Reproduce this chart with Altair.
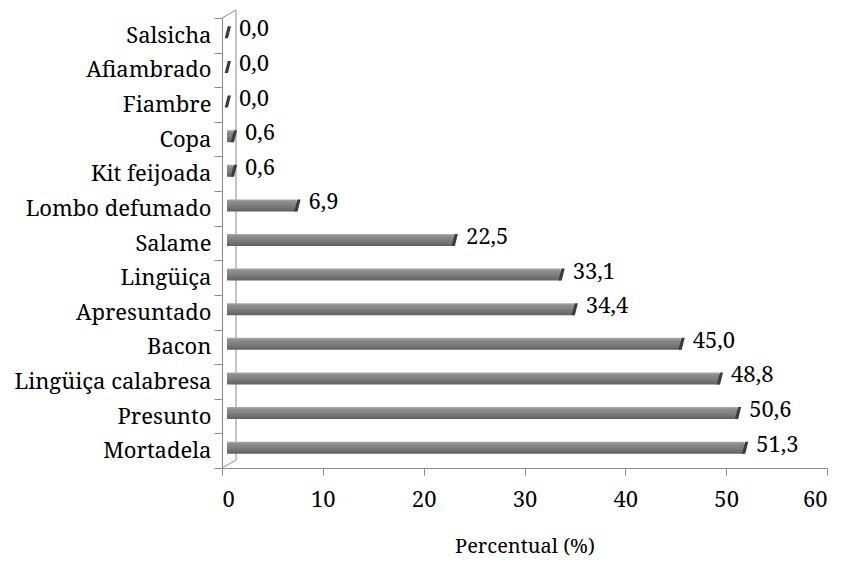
import altair as alt
import pandas as pd

# Produtos cárneos e percentual de ocorrência
categories = [
    "Salsicha", "Afiambrado", "Fiambre", "Copa", "Kit feijoada",
    "Lombo defumado", "Salame", "Lingüiça", "Apresuntado", "Bacon",
    "Lingüiça calabresa", "Presunto", "Mortadela",
]
values = [0.0, 0.0, 0.0, 0.6, 0.6, 6.9, 22.5, 33.1, 34.4, 45.0, 48.8, 50.6, 51.3]
x_ticks = [0, 10, 20, 30, 40, 50, 60]

df = pd.DataFrame({"produto": categories, "percentual": values})
df["rotulo"] = [f"{v:.1f}".replace(".", ",") for v in values]

FONT = "Noto Serif"
AXIS_GRAY = "#8a8a8a"
W, H = 605, 450
DEPTH_X, DEPTH_Y = 14, 8

x_enc = alt.X(
    "percentual:Q",
    scale=alt.Scale(domain=[0, 60], nice=False),
    axis=alt.Axis(
        values=x_ticks, grid=False, tickSize=7, labelPadding=14,
        labelFontSize=22, title="Percentual (%)", titleFontSize=20,
        titleFontWeight="normal", titlePadding=26, format="d",
        labelFont=FONT, titleFont=FONT,
    ),
)
y_enc = alt.Y(
    "produto:N",
    sort=categories,
    scale=alt.Scale(paddingInner=0, paddingOuter=0),
    axis=alt.Axis(
        title="", tickBand="extent", tickSize=8, labelPadding=3,
        labelFontSize=22, labelLimit=300, labelFont=FONT,
    ),
)

bar_fill = alt.Gradient(
    gradient="linear", x1=0, y1=0, x2=0, y2=1,
    stops=[
        alt.GradientStop(offset=0, color="#a9a9a9"),
        alt.GradientStop(offset=0.2, color="#8c8c8c"),
        alt.GradientStop(offset=0.6, color="#7a7a7a"),
        alt.GradientStop(offset=1, color="#5f5f5f"),
    ],
)

base = alt.Chart(df)

bars = base.mark_bar(size=12, xOffset=5, yOffset=-3, fill=bar_fill).encode(
    x=x_enc, y=y_enc
)

# dark slanted end cap giving the bars their 3D look
caps = base.mark_point(
    shape="M-0.55,1 L0,1 L0.5,-1 L-0.05,-1 Z",
    size=144, filled=True, color="#3c3c3c", opacity=1,
    xOffset=6, yOffset=-3,
).encode(x="percentual:Q", y=alt.Y("produto:N", sort=categories))

labels = base.mark_text(
    align="left", baseline="middle", dx=17, dy=-6,
    font=FONT, fontSize=22, color="black",
).encode(x="percentual:Q", y=alt.Y("produto:N", sort=categories), text="rotulo:N")

one_row = alt.InlineData(values=[{"k": 0}])

# back wall edge and its diagonal links to the front axes
wall = alt.Chart(one_row).mark_rule(color=AXIS_GRAY, strokeWidth=1).encode(
    x=alt.value(DEPTH_X), y=alt.value(-DEPTH_Y), y2=alt.value(H - DEPTH_Y)
)
top_edge = alt.Chart(one_row).mark_rule(color=AXIS_GRAY, strokeWidth=1).encode(
    x=alt.value(0), y=alt.value(0), x2=alt.value(DEPTH_X), y2=alt.value(-DEPTH_Y)
)
bottom_edge = alt.Chart(one_row).mark_rule(color=AXIS_GRAY, strokeWidth=1).encode(
    x=alt.value(0), y=alt.value(H), x2=alt.value(DEPTH_X), y2=alt.value(H - DEPTH_Y)
)

chart = (
    alt.layer(wall, top_edge, bottom_edge, bars, caps, labels)
    .properties(
        width=W, height=H,
        autosize=alt.AutoSizeParams(type="none"),
        padding={"left": 222, "top": 18, "right": 14, "bottom": 95},
        background="white",
    )
    .configure_view(stroke=None)
    .configure_axis(
        labelColor="black", titleColor="black",
        domainColor=AXIS_GRAY, tickColor=AXIS_GRAY,
    )
)

chart.save("out.html", embed_options={"renderer": "svg", "actions": False})
